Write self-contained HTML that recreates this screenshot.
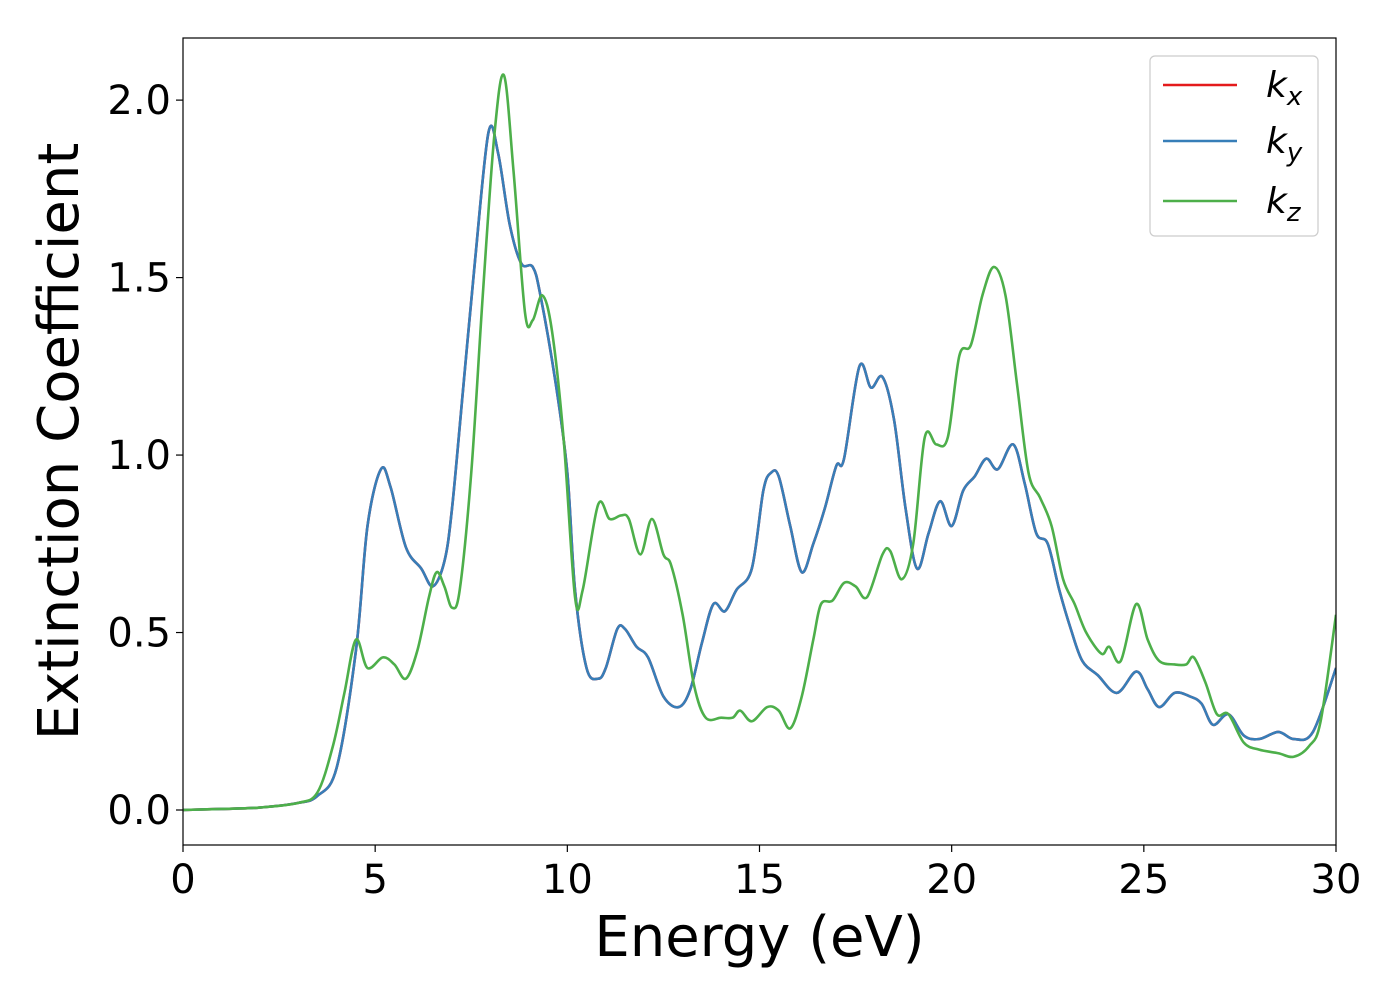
<!DOCTYPE html>
<html><head><meta charset="utf-8"><style>
html,body{margin:0;padding:0;background:#fff;}
svg text{font-family:"DejaVu Sans","Liberation Sans",sans-serif;}
</style></head><body>
<svg id="chart" width="1400" height="1000" viewBox="0 0 1400 1000" xmlns="http://www.w3.org/2000/svg">
<g id="plot"></g>
</svg>
<script>
const xTicks=[0,5,10,15,20,25,30];
const xTickLabels=["0","5","10","15","20","25","30"];
const yTicks=[0,0.5,1.0,1.5,2.0];
const yTickLabels=["0.0","0.5","1.0","1.5","2.0"];
const kxyEnergy=[0,1,2,3,3.5,4,4.5,4.8,5.15,5.4,5.8,6.2,6.5,6.8,7.0,7.3,7.6,7.95,8.2,8.5,8.8,9.1,9.3,9.7,10.0,10.2,10.5,10.8,11.0,11.3,11.5,11.8,12.1,12.5,12.9,13.2,13.5,13.8,14.1,14.4,14.8,15.1,15.3,15.5,15.8,16.1,16.4,16.7,17.0,17.2,17.6,17.9,18.2,18.5,18.8,19.1,19.4,19.7,20.0,20.3,20.6,20.9,21.2,21.6,21.9,22.2,22.5,22.8,23.1,23.4,23.8,24.3,24.8,25.1,25.4,25.8,26.2,26.5,26.8,27.2,27.6,28.0,28.5,28.9,29.4,30];
const kxyValues=[0,0.003,0.007,0.02,0.04,0.12,0.45,0.8,0.96,0.91,0.74,0.68,0.63,0.7,0.85,1.2,1.55,1.91,1.85,1.65,1.54,1.53,1.45,1.2,0.95,0.62,0.4,0.37,0.4,0.51,0.51,0.46,0.43,0.32,0.29,0.34,0.47,0.58,0.56,0.62,0.68,0.9,0.95,0.94,0.8,0.67,0.75,0.85,0.97,0.99,1.25,1.19,1.22,1.1,0.85,0.68,0.78,0.87,0.8,0.9,0.94,0.99,0.96,1.03,0.92,0.78,0.75,0.62,0.51,0.42,0.38,0.33,0.39,0.34,0.29,0.33,0.32,0.3,0.24,0.27,0.21,0.2,0.22,0.2,0.22,0.4];
const kzEnergy=[0,1,2,3,3.5,3.9,4.2,4.5,4.8,5.2,5.5,5.8,6.1,6.4,6.6,6.8,7.0,7.2,7.5,7.8,8.1,8.35,8.6,8.9,9.1,9.35,9.6,9.9,10.2,10.4,10.8,11.1,11.4,11.6,11.9,12.2,12.5,12.7,13.0,13.3,13.6,14.0,14.3,14.5,14.8,15.2,15.5,15.8,16.1,16.4,16.6,16.9,17.2,17.5,17.8,18.2,18.4,18.7,19.0,19.3,19.6,19.9,20.2,20.5,20.8,21.1,21.4,21.7,22.0,22.3,22.6,22.9,23.2,23.5,23.9,24.1,24.4,24.8,25.1,25.4,25.8,26.1,26.3,26.6,26.9,27.2,27.6,28.0,28.5,28.9,29.3,29.6,30];
const kzValues=[0,0.003,0.007,0.02,0.05,0.18,0.33,0.48,0.4,0.43,0.41,0.37,0.45,0.6,0.67,0.63,0.57,0.62,0.95,1.45,1.9,2.07,1.8,1.4,1.38,1.45,1.35,1.05,0.6,0.62,0.86,0.82,0.83,0.82,0.72,0.82,0.72,0.69,0.55,0.35,0.26,0.26,0.26,0.28,0.25,0.29,0.28,0.23,0.32,0.48,0.58,0.59,0.64,0.63,0.6,0.72,0.73,0.65,0.75,1.05,1.03,1.05,1.28,1.31,1.45,1.53,1.45,1.2,0.95,0.88,0.8,0.65,0.58,0.5,0.44,0.46,0.42,0.58,0.48,0.42,0.41,0.41,0.43,0.36,0.27,0.27,0.19,0.17,0.16,0.15,0.18,0.25,0.55];

const NS="http://www.w3.org/2000/svg";
const L=183,R=1336,T=38,B=845;
const xMin=0,xMax=30,yMin=-0.0986,yMax=2.175;
const sx=v=>L+(v-xMin)/(xMax-xMin)*(R-L);
const sy=v=>B-(v-yMin)/(yMax-yMin)*(B-T);
const plot=document.getElementById('plot');
function mk(tag,attrs,parent){const e=document.createElementNS(NS,tag);for(const k in attrs)e.setAttribute(k,attrs[k]);(parent||plot).appendChild(e);return e;}
function pathFor(xs,ys){
  const p=xs.map((x,i)=>[sx(x),sy(ys[i])]);
  let d=`M${p[0][0]},${p[0][1]}`;
  for(let i=0;i<p.length-1;i++){
    const p0=p[Math.max(0,i-1)],p1=p[i],p2=p[i+1],p3=p[Math.min(p.length-1,i+2)];
    const c1=[p1[0]+(p2[0]-p0[0])/6,p1[1]+(p2[1]-p0[1])/6];
    const c2=[p2[0]-(p3[0]-p1[0])/6,p2[1]-(p3[1]-p1[1])/6];
    d+=`C${c1[0]},${c1[1]} ${c2[0]},${c2[1]} ${p2[0]},${p2[1]}`;
  }
  return d;
}
const defs=mk('defs',{});
const cp=mk('clipPath',{id:'clip'},defs);
mk('rect',{x:L,y:T,width:R-L,height:B-T},cp);
const g=mk('g',{'clip-path':'url(#clip)'});


const series=[["kx-line","#e41a1c",kxyEnergy,kxyValues],["ky-line","#377eb8",kxyEnergy,kxyValues],["kz-line","#4daf4a",kzEnergy,kzValues]];
series.forEach(s=>{
  const e=mk('path',{d:pathFor(s[2],s[3]),fill:'none',stroke:s[1],'stroke-width':2.6,'stroke-linejoin':'round'},g);
  
  
});
const frame=mk('rect',{x:L,y:T,width:R-L,height:B-T,fill:'none',stroke:'#000','stroke-width':1.2});


xTicks.forEach((v,i)=>{
  const t=mk('line',{x1:sx(v),x2:sx(v),y1:B,y2:B+7,stroke:'#000','stroke-width':1.2});
  
  
  const tx=mk('text',{x:sx(v),y:B+48,'font-size':40,'text-anchor':'middle'});
  tx.textContent=xTickLabels[i];
  
  
});
yTicks.forEach((v,i)=>{
  const t=mk('line',{x1:L-7,x2:L,y1:sy(v),y2:sy(v),stroke:'#000','stroke-width':1.2});
  
  
  const tx=mk('text',{x:L-12,y:sy(v)+14,'font-size':40,'text-anchor':'end'});
  tx.textContent=yTickLabels[i];
  
  
});
const xl=mk('text',{x:(L+R)/2,y:956,'font-size':56,'text-anchor':'middle'});
xl.textContent='Energy (eV)';


const yl=mk('text',{x:0,y:0,'font-size':56,'text-anchor':'middle',transform:`translate(78,${(T+B)/2}) rotate(-90)`});
yl.textContent='Extinction Coefficient';


const lg=mk('g',{});


mk('rect',{x:1150,y:56,width:168,height:180,rx:5,fill:'#fff',stroke:'#ccc','stroke-width':1.2},lg);
const legY=[85,141,201],subs=['x','y','z'];
series.forEach((s,i)=>{
  const ln=mk('line',{x1:1163,x2:1237,y1:legY[i],y2:legY[i],stroke:s[1],'stroke-width':2.6},lg);
  
  
  const t=mk('text',{x:1266,y:legY[i]+12,'font-size':36,'font-style':'italic'},lg);
  
  
  t.textContent='k';
  const ts=mk('tspan',{dy:8,'font-size':26},t);
  ts.textContent=subs[i];
});
</script>
</body></html>
